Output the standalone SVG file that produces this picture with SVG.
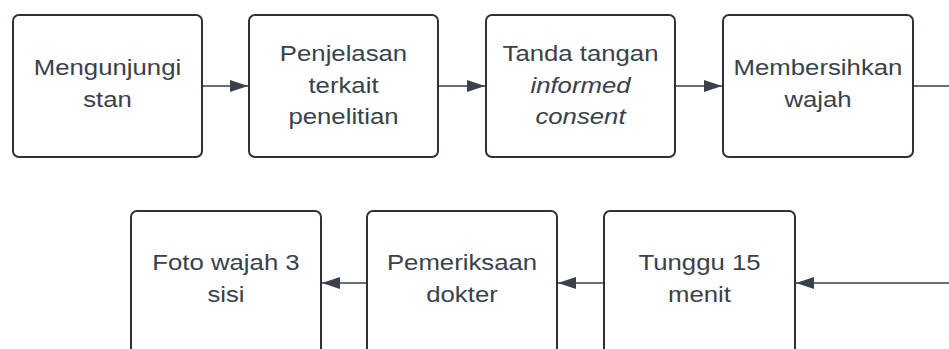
<svg xmlns="http://www.w3.org/2000/svg" width="949" height="349" viewBox="0 0 949 349">
<style>
.box{fill:#fff;stroke:#2e3238;stroke-width:2}
.t{font-family:"Liberation Sans",Arial,sans-serif;font-size:22px;fill:#3a414a;text-anchor:middle}
.i{font-style:italic}
.c{stroke:#3a414a;stroke-width:1.4;fill:none}
</style>
<defs>
<marker id="ah" viewBox="0 0 18 12" refX="18" refY="6" markerWidth="18" markerHeight="12" markerUnits="userSpaceOnUse" orient="auto">
<path d="M0,0 L18,6 L0,12 z" fill="#3a414a"/>
</marker>
</defs>
<rect width="949" height="349" fill="#fff"/>
<g id="connectors">
<path class="c" d="M202,86 H248" marker-end="url(#ah)"/>
<path class="c" d="M438,86 H485" marker-end="url(#ah)"/>
<path class="c" d="M675,86 H722" marker-end="url(#ah)"/>
<path class="c" d="M913,86 H949"/>
<path class="c" d="M949,283 H796" marker-end="url(#ah)"/>
<path class="c" d="M604,283 H558" marker-end="url(#ah)"/>
<path class="c" d="M367,283 H322" marker-end="url(#ah)"/>
</g>
<g id="n1"><rect class="box" x="13" y="15" width="189" height="142" rx="6"/>
<g transform="translate(107.5,0) scale(1.17,1)"><text class="t" x="0" y="75">Mengunjungi</text><text class="t" x="0" y="107">stan</text></g></g>
<g id="n2"><rect class="box" x="249" y="15" width="189" height="142" rx="6"/>
<g transform="translate(343.5,0) scale(1.17,1)"><text class="t" x="0" y="61">Penjelasan</text><text class="t" x="0" y="93">terkait</text><text class="t" x="0" y="124">penelitian</text></g></g>
<g id="n3"><rect class="box" x="486" y="15" width="189" height="142" rx="6"/>
<g transform="translate(580.5,0) scale(1.17,1)"><text class="t" x="0" y="61">Tanda tangan</text><text class="t i" x="0" y="93">informed</text><text class="t i" x="0" y="124">consent</text></g></g>
<g id="n4"><rect class="box" x="723" y="15" width="190" height="142" rx="6"/>
<g transform="translate(818,0) scale(1.17,1)"><text class="t" x="0" y="75">Membersihkan</text><text class="t" x="0" y="107">wajah</text></g></g>
<g id="n5"><rect class="box" x="131" y="211" width="190" height="160" rx="6"/>
<g transform="translate(226,0) scale(1.17,1)"><text class="t" x="0" y="270">Foto wajah 3</text><text class="t" x="0" y="302">sisi</text></g></g>
<g id="n6"><rect class="box" x="367" y="211" width="190" height="160" rx="6"/>
<g transform="translate(462,0) scale(1.17,1)"><text class="t" x="0" y="270">Pemeriksaan</text><text class="t" x="0" y="302">dokter</text></g></g>
<g id="n7"><rect class="box" x="604" y="211" width="191" height="160" rx="6"/>
<g transform="translate(699.5,0) scale(1.17,1)"><text class="t" x="0" y="270">Tunggu 15</text><text class="t" x="0" y="302">menit</text></g></g>
</svg>
